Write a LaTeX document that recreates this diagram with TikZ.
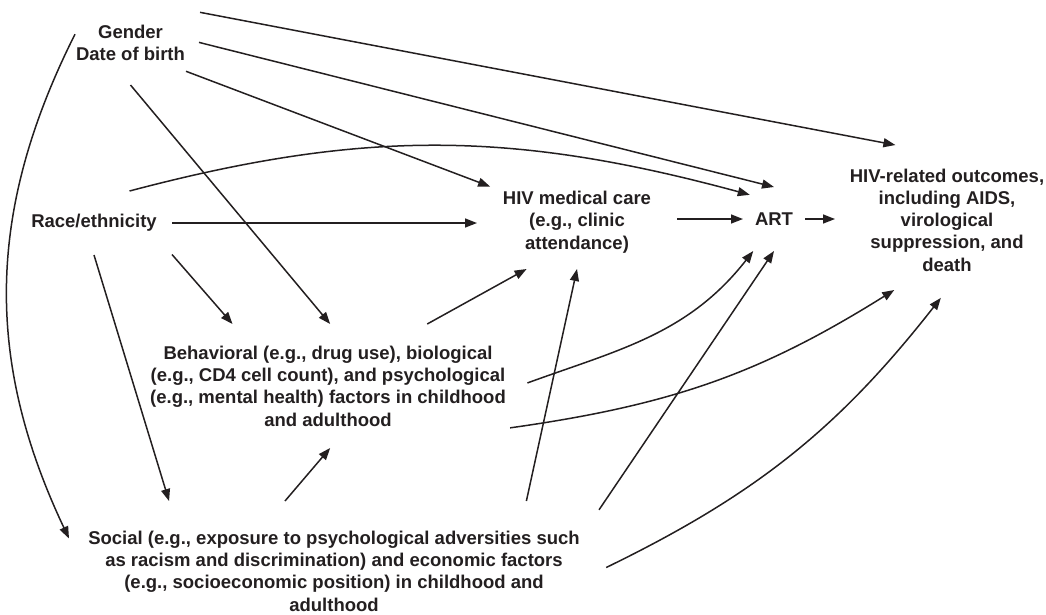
\documentclass[tikz,border=0pt]{standalone}
\usepackage{fontspec}
\setmainfont{Liberation Sans}
\usetikzlibrary{arrows.meta}
\definecolor{ink}{HTML}{231F20}
\def\fs{\bfseries\fontsize{18.5}{22.3}\selectfont}
\tikzstyle{box}=[align=center,inner sep=0pt,outer sep=0pt,text=ink,font=\fs]
\tikzstyle{arr}=[-{Triangle[length=12pt,width=9pt]},draw=ink,line width=1.5pt]
\begin{document}
\begin{tikzpicture}[x=1pt,y=-1pt]
	\useasboundingbox (0,0) rectangle (1046,614);
	% factors
	\node[box,minimum width=111pt,minimum height=84pt](gender) at (130.5,43){Gender\\Date of birth};
	\node[box,minimum width=156pt,minimum height=64pt](race) at (94,223){Race/ethnicity};
	\node[box,minimum width=382pt,minimum height=124pt](behav) at (328,386){Behavioral (e.g., drug use), biological\\(e.g., CD4 cell count), and psychological\\(e.g., mental health) factors in childhood\\and adulthood};
	\node[box,minimum width=530pt,minimum height=140pt](social) at (334,571){Social (e.g., exposure to psychological adversities such\\as racism and discrimination) and economic factors\\(e.g., socioeconomic position) in childhood and\\adulthood};
	% care and outcomes
	\node[box,minimum width=200pt,minimum height=94pt](care) at (577,222){HIV medical care\\(e.g., clinic\\attendance)};
	\node[box,minimum width=62pt,minimum height=64pt](art) at (774,219){ART};
	\node[box,minimum width=224pt,minimum height=140pt](outcome) at (947,220){HIV-related outcomes,\\including AIDS,\\virological\\suppression, and\\death};
	% gender and date of birth
	\draw[arr,shorten <=14.3pt,shorten >=26.6pt](gender.31)--(outcome.110);
	\draw[arr,shorten <=13.4pt](gender.4)--(art.north);
	\draw[arr,shorten >=-14pt](gender.-27)--(care.158);
	\draw[arr](gender.south)--(behav.88);
	\draw[arr](gender.171) to[bend right=26] (social.173);
	% race/ethnicity
	\draw[arr,shorten >=-7pt](race.42) to[bend left=15] (art.140);
	\draw[arr](race.east)--(race.east -| care.west);
	\draw[arr](race.-22)--(behav.147);
	\draw[arr](race.south)--(social.157.5);
	% care, ART
	\draw[arr](care.east |- art.west)--(art.west);
	\draw[arr](art.east)--(art.east -| outcome.west);
	% behavioral factors
	\draw[arr](behav.32)--(care.-137);
	\draw[arr,shorten <=9pt](behav.0) to[out=20,in=232] (art.-123);
	\draw[arr,shorten <=-9pt](behav.-12) to[bend right=12] (outcome.-127);
	% social factors
	\draw[arr](social.125)--(behav.-88);
	\draw[arr](social.20)--(care.south);
	\draw[arr](social.13)--(art.south);
	\draw[arr,shorten <=8pt,shorten >=10pt](social.east) to[bend right=13] (outcome.south);
\end{tikzpicture}
\end{document}
